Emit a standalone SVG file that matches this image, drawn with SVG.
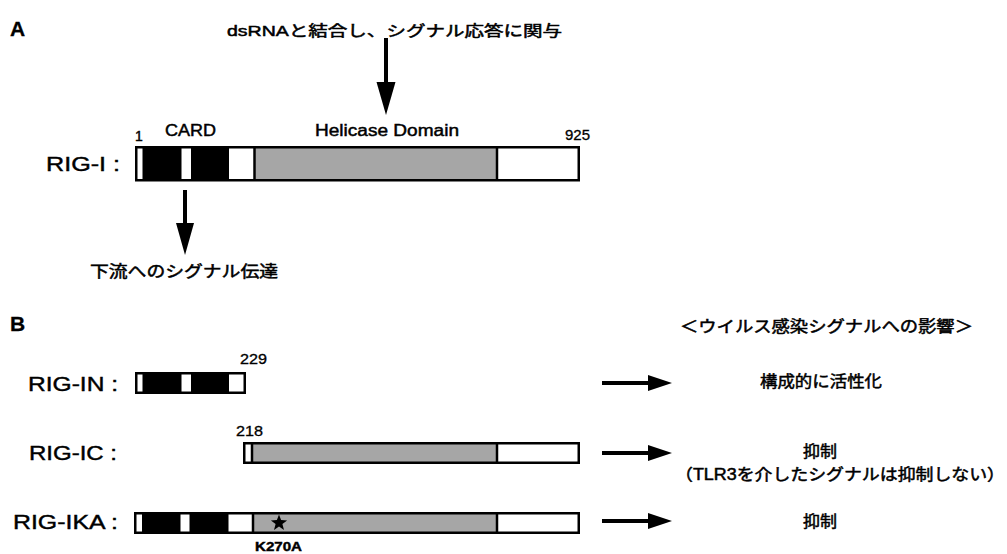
<svg xmlns="http://www.w3.org/2000/svg" width="1007" height="554" viewBox="0 0 1007 554">
<style>
.lat{font-family:"Liberation Sans","Noto Sans CJK JP",sans-serif;fill:#000;stroke:#000;stroke-width:0.45}
.jp{font-family:"Liberation Sans","Noto Sans CJK JP",sans-serif;fill:#000;stroke:#000;stroke-width:0.5}
.big{font-size:21px}
.hd{font-size:21px;font-weight:bold;stroke-width:0.3}
.num{font-size:14px;stroke-width:0.3}
.frame{fill:none;stroke:#000;stroke-width:2.5}
.blk{fill:#000}
.gry{fill:#a6a6a6}
.div{stroke:#000;stroke-width:2.5}
.shaft{stroke:#000;stroke-width:4;fill:none}
</style>
<rect width="1007" height="554" fill="#fff"/>

<g id="labels">
<text class="lat hd" x="10" y="36">A</text>
<text class="lat hd" x="10" y="331">B</text>
</g>

<g id="rig-i">
<text class="lat big" x="46" y="171" textLength="74" lengthAdjust="spacingAndGlyphs">RIG-I :</text>
<rect x="136" y="147" width="444" height="34" fill="#fff"/>
<rect class="blk" x="142.5" y="147" width="39" height="34"/>
<rect class="blk" x="191" y="147" width="38" height="34"/>
<rect class="gry" x="254" y="147" width="242.5" height="34"/>
<line class="div" x1="254.5" y1="147" x2="254.5" y2="181"/>
<line class="div" x1="497" y1="147" x2="497" y2="181"/>
<rect class="frame" x="136.25" y="147.25" width="442.5" height="33"/>
<text class="lat" font-size="14" stroke-width="0.3" x="135" y="141">1</text>
<text class="lat" font-size="16" stroke-width="0.3" x="165" y="136" textLength="51" lengthAdjust="spacingAndGlyphs">CARD</text>
<text class="lat" font-size="16" stroke-width="0.3" x="315" y="136" textLength="144" lengthAdjust="spacingAndGlyphs">Helicase Domain</text>
<text class="lat num" x="565" y="140" textLength="25" lengthAdjust="spacingAndGlyphs">925</text>
</g>

<g id="note-dsrna">
<text class="jp" font-size="15" x="227" y="36" textLength="335" lengthAdjust="spacingAndGlyphs">dsRNAと結合し、シグナル応答に関与</text>
</g>
<g id="note-downstream">
<text class="jp" font-size="16" x="90" y="277" textLength="188" lengthAdjust="spacingAndGlyphs">下流へのシグナル伝達</text>
</g>

<g id="rig-in">
<text class="lat big" x="28" y="391" textLength="90" lengthAdjust="spacingAndGlyphs">RIG-IN :</text>
<rect x="135" y="372" width="111" height="22" fill="#fff"/>
<rect class="blk" x="142.5" y="372" width="39" height="22"/>
<rect class="blk" x="191" y="372" width="38" height="22"/>
<rect class="frame" x="136.25" y="373.25" width="108.5" height="19.5"/>
<text class="lat num" x="240" y="364" textLength="27" lengthAdjust="spacingAndGlyphs">229</text>
</g>

<g id="rig-ic">
<text class="lat big" x="29" y="460" textLength="88" lengthAdjust="spacingAndGlyphs">RIG-IC :</text>
<rect x="243" y="442" width="337" height="22" fill="#fff"/>
<rect class="gry" x="253" y="442" width="243.5" height="22"/>
<line class="div" x1="252" y1="442" x2="252" y2="464"/>
<line class="div" x1="497" y1="442" x2="497" y2="464"/>
<rect class="frame" x="244.25" y="443.25" width="334.5" height="19.5"/>
<text class="lat num" x="236" y="436" textLength="27" lengthAdjust="spacingAndGlyphs">218</text>
</g>

<g id="rig-ika">
<text class="lat big" x="13" y="529" textLength="105" lengthAdjust="spacingAndGlyphs">RIG-IKA :</text>
<rect x="134" y="512" width="446" height="22" fill="#fff"/>
<rect class="blk" x="142" y="512" width="38.5" height="22"/>
<rect class="blk" x="189.5" y="512" width="39" height="22"/>
<rect class="gry" x="253" y="512" width="243.5" height="22"/>
<line class="div" x1="253" y1="512" x2="253" y2="534"/>
<line class="div" x1="497" y1="512" x2="497" y2="534"/>
<rect class="frame" x="135.25" y="513.25" width="443.5" height="19.5"/>
<path d="M279,514.5 L281.1,520.1 L287.1,520.4 L282.4,524.1 L284,529.9 L279,526.6 L274,529.9 L275.6,524.1 L270.9,520.4 L276.9,520.1 Z" fill="#000"/>
<text class="lat" font-size="13" font-weight="bold" stroke-width="0.2" x="255" y="551" textLength="47" lengthAdjust="spacingAndGlyphs">K270A</text>
</g>

<g id="effects">
<text class="jp" font-size="16" x="680" y="332" textLength="293" lengthAdjust="spacingAndGlyphs">＜ウイルス感染シグナルへの影響＞</text>
<text class="jp" font-size="16" x="821" y="387" text-anchor="middle" textLength="122" lengthAdjust="spacingAndGlyphs">構成的に活性化</text>
<text class="jp" font-size="16" x="820" y="457" text-anchor="middle" textLength="34" lengthAdjust="spacingAndGlyphs">抑制</text>
<text class="jp" font-size="16" x="675" y="480" textLength="330" lengthAdjust="spacingAndGlyphs">（TLR3を介したシグナルは抑制しない）</text>
<text class="jp" font-size="16" x="820" y="527" text-anchor="middle" textLength="34" lengthAdjust="spacingAndGlyphs">抑制</text>
</g>

<g id="connectors">
<line class="shaft" x1="386" y1="38" x2="386" y2="83"/>
<path d="M376.5,82 L395.5,82 L386,115 Z" fill="#000"/>
<line class="shaft" x1="185" y1="190" x2="185" y2="224"/>
<path d="M176,223 L194,223 L185,255 Z" fill="#000"/>
<line class="shaft" x1="602" y1="383" x2="649" y2="383"/>
<path d="M648,375 L672,383 L648,391 Z" fill="#000"/>
<line class="shaft" x1="602" y1="453" x2="649" y2="453"/>
<path d="M648,445 L672,453 L648,461 Z" fill="#000"/>
<line class="shaft" x1="602" y1="521" x2="649" y2="521"/>
<path d="M648,513 L672,521 L648,529 Z" fill="#000"/>
</g>
</svg>
